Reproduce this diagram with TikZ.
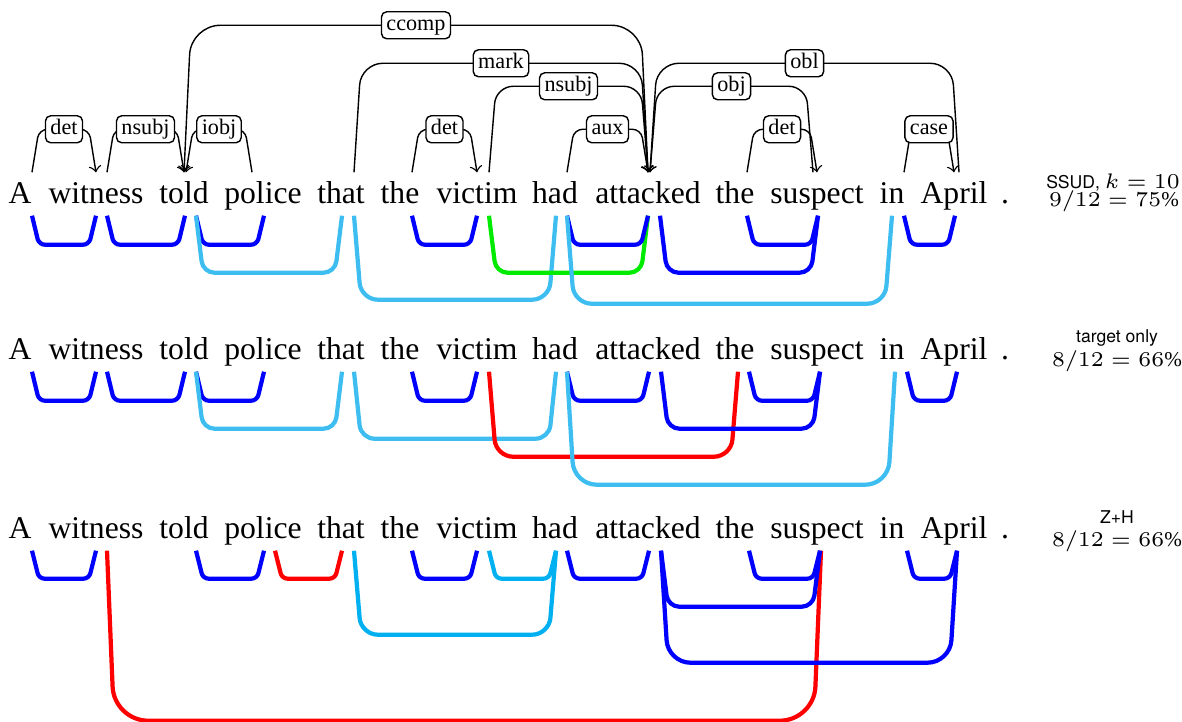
\documentclass[tikz,border=0pt]{standalone}
\usepackage{fontspec}
\setmainfont{Liberation Serif}
\setsansfont{TeX Gyre Heros}
\usetikzlibrary{calc}
\definecolor{skyA}{RGB}{62,190,240}
\definecolor{skyB}{RGB}{0,176,240}
\definecolor{lime}{RGB}{0,235,0}
\tikzset{
	word/.style={font=\fontsize{9}{11}\selectfont, inner sep=0pt, text height=0.31cm, text depth=0.11cm, anchor=base},
	lab/.style={draw, fill=white, rounded corners=1.5pt, font=\fontsize{6.3}{7}\selectfont, inner xsep=0.05cm, inner ysep=0.03cm, text height=0.16cm, text depth=0.05cm},
	hit/.style={line width=1.2pt, blue},
	near/.style={line width=1.2pt, skyA},
	nearb/.style={line width=1.2pt, skyB},
	label ok/.style={line width=1.2pt, lime},
	miss/.style={line width=1.2pt, red},
	sysname/.style={font=\fontsize{5}{6}\selectfont\sffamily, inner sep=0pt, anchor=base},
	score/.style={font=\fontsize{6}{7}\selectfont, inner sep=0pt, anchor=base}
}
\def\deparc[#1](#2:#3)(#4:#5)(#6)#7{\draw[#1, rounded corners={0.02mm*(#6)}] ($(#2.north)+(#3,0)$) -- ++(7,-#6) -- node[lab] {#7} ($(#4.north)+(#5-7,-#6)$) -- ($(#4.north)+(#5,0)$);}
\def\lowarc[#1](#2:#3)(#4:#5)(#6){\draw[#1, rounded corners={0.02mm*(#6)}] ($(#2.south)+(#3,0)$) -- ++(7,#6) -- ($(#4.south)+(#5-7,#6)$) -- ($(#4.south)+(#5,0)$);}

\begin{document}
\begin{tikzpicture}[x=0.01cm, y=-0.01cm]
			%%%%% START %%%%%
			\useasboundingbox (0,0) rectangle (1182,722);
			
			\foreach \row/\bl in {1/204, 2/360, 3/539}
				\foreach \n/\x/\w in {A/20/A, witness/96/witness, told/184/told, police/263/police, that/341/that, the/400/the, victim/477/victim, had/555/had, attacked/648/attacked, theb/735/the, suspect/817/suspect, in/892/in, April/954/April, dot/1005/.}
					\node[word] (r\row\n) at (\x, \bl) {\w};
			
			%%%%% SSUD %%%%%
			\deparc[->](r1A:12)(r1witness:0)(43){det}
			\deparc[->](r1witness:11)(r1told:0)(43){nsubj}
			\deparc[<-](r1told:2)(r1police:-11)(43){iobj}
			\deparc[<-](r1told:0)(r1attacked:0)(147){ccomp}
			\deparc[->](r1that:13)(r1attacked:0)(109){mark}
			\deparc[->](r1the:12)(r1victim:0)(43){det}
			\deparc[->](r1victim:12)(r1attacked:0)(86){nsubj}
			\deparc[->](r1had:12)(r1attacked:0)(43){aux}
			\deparc[<-](r1attacked:2)(r1suspect:-4)(86){obj}
			\deparc[<-](r1attacked:2)(r1April:5)(109){obl}
			\deparc[->](r1theb:12)(r1suspect:0)(43){det}
			\deparc[->](r1in:12)(r1April:0)(43){case}
			
			\lowarc[hit](r1A:12)(r1witness:0)(29)
			\lowarc[hit](r1witness:11)(r1told:1)(29)
			\lowarc[hit](r1told:12)(r1police:1)(29)
			\lowarc[near](r1told:12)(r1that:1)(57)
			\lowarc[hit](r1the:12)(r1victim:0)(29)
			\lowarc[near](r1that:13)(r1had:1)(84)
			\lowarc[label ok](r1victim:12)(r1attacked:0)(57)
			\lowarc[hit](r1had:12)(r1attacked:0)(29)
			\lowarc[near](r1had:12)(r1in:0)(88)
			\lowarc[hit](r1attacked:12)(r1suspect:1)(57)
			\lowarc[hit](r1theb:12)(r1suspect:1)(29)
			\lowarc[hit](r1in:12)(r1April:1)(29)
			
			\node[sysname] (r1sys) at (1113, 189) {SSUD, {\fontsize{6}{7}\selectfont$k=10$}};
			\node[score] (r1acc) at (1114, 207) {$9/12=75\%$};
			
			%%%%% TARGET ONLY %%%%%
			\lowarc[hit](r2A:12)(r2witness:0)(29)
			\lowarc[hit](r2witness:11)(r2told:1)(29)
			\lowarc[hit](r2told:12)(r2police:1)(29)
			\lowarc[near](r2told:12)(r2that:1)(57)
			\lowarc[hit](r2the:12)(r2victim:0)(29)
			\lowarc[near](r2that:13)(r2had:1)(67)
			\lowarc[miss](r2victim:12)(r2theb:3)(85)
			\lowarc[hit](r2had:12)(r2attacked:1)(29)
			\lowarc[near](r2had:12)(r2in:3)(113)
			\lowarc[hit](r2attacked:13)(r2suspect:3)(57)
			\lowarc[hit](r2theb:14)(r2suspect:3)(29)
			\lowarc[hit](r2in:15)(r2April:3)(29)
			
			\node[sysname] (r2sys) at (1117, 343) {target only};
			\node[score] (r2acc) at (1117, 367) {$8/12=66\%$};
			
			%%%%% Z+H %%%%%
			\lowarc[hit](r3A:12)(r3witness:0)(28)
			\lowarc[miss](r3witness:11)(r3suspect:4)(170)
			\lowarc[hit](r3told:12)(r3police:1)(28)
			\lowarc[miss](r3police:12)(r3that:1)(28)
			\lowarc[hit](r3the:12)(r3victim:0)(28)
			\lowarc[nearb](r3that:13)(r3had:1)(84)
			\lowarc[nearb](r3victim:12)(r3had:1)(28)
			\lowarc[hit](r3had:12)(r3attacked:1)(28)
			\lowarc[hit](r3attacked:13)(r3suspect:3)(56)
			\lowarc[hit](r3attacked:13)(r3April:3)(112)
			\lowarc[hit](r3theb:14)(r3suspect:3)(28)
			\lowarc[hit](r3in:15)(r3April:3)(28)
			
			\node[sysname] (r3sys) at (1117, 524) {Z+H};
			\node[score] (r3acc) at (1117, 547) {$8/12=66\%$};
			
			%%%%% END %%%%%
\end{tikzpicture}
\end{document}
